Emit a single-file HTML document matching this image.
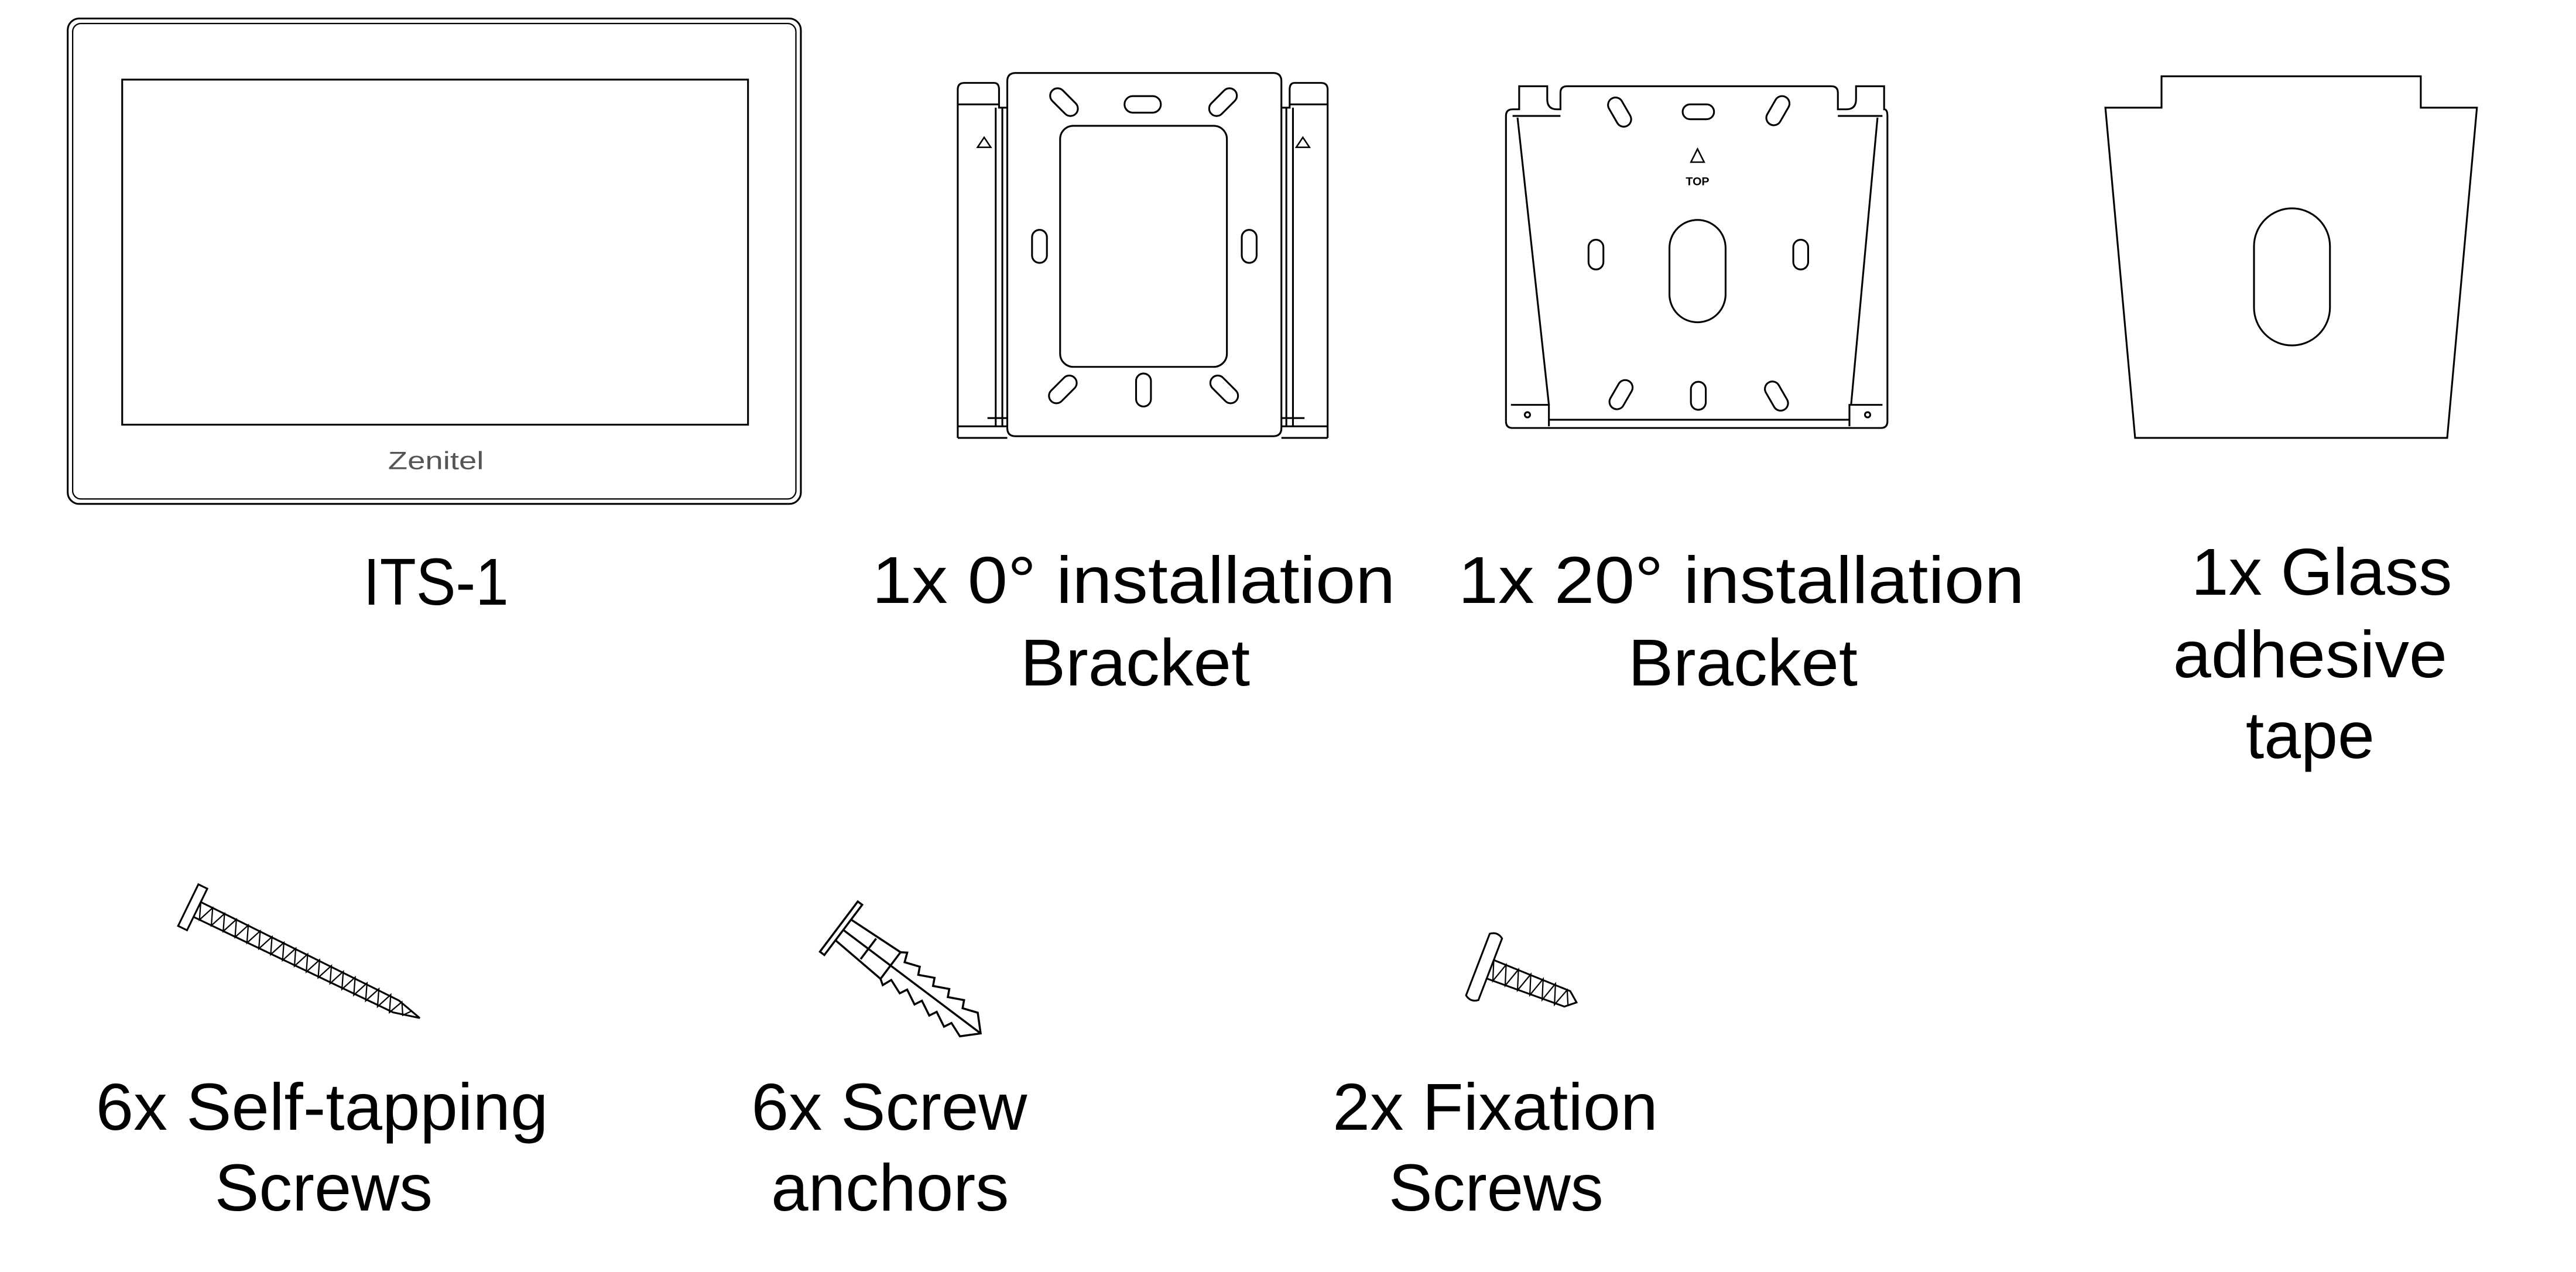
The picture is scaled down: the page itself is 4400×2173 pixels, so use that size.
<!DOCTYPE html>
<html><head><meta charset="utf-8"><style>
html,body{margin:0;padding:0;background:#fff;}
svg{display:block;}
text{font-family:"Liberation Sans",Arial,sans-serif;fill:#000;}
</style></head><body>
<svg width="4400" height="2173" viewBox="0 0 1560 770" xmlns="http://www.w3.org/2000/svg">
<g fill="none" stroke="#000" stroke-width="1.1">
<!-- ITS-1 -->
<rect x="41" y="11" width="444" height="294" rx="7"/>
<rect x="44" y="14" width="438" height="288" rx="5" stroke-width="0.8"/>
<rect x="74" y="48" width="379" height="209"/>
<!-- 0 deg bracket -->
<path d="M610,49 Q610,44 615,44 L771,44 Q776,44 776,49 L776,259 Q776,264 771,264 L615,264 Q610,264 610,259 Z"/>
<rect x="642" y="76" width="101" height="146" rx="8"/>
<path d="M580,265 L580,54 Q580,50 584,50 L602,50 Q605,50 605,54 L605,65 L610,65"/>
<line x1="580" y1="63" x2="605" y2="63"/>
<line x1="603" y1="65" x2="603" y2="258"/><line x1="607" y1="65" x2="607" y2="258"/>
<path d="M580,265 L610,265 M580,258 L610,258 M598,253 L610,253"/>
<path d="M804,265 L804,54 Q804,50 800,50 L784,50 Q781,50 781,54 L781,65 L776,65"/>
<line x1="781" y1="63" x2="804" y2="63"/>
<line x1="779" y1="65" x2="779" y2="258"/><line x1="783" y1="65" x2="783" y2="258"/>
<path d="M776,265 L804,265 M776,258 L804,258 M776,253 L790,253"/>
<path d="M592,89 L596,83 L600,89 Z M785,89 L789,83 L793,89 Z" stroke-width="0.9"/>
<rect x="681" y="58" width="22" height="10" rx="5"/>
<rect x="634" y="57" width="20" height="9" rx="4.5" transform="rotate(45 644 62)"/>
<rect x="731" y="57" width="20" height="9" rx="4.5" transform="rotate(-45 741 62)"/>
<rect x="625" y="139" width="9" height="20" rx="4.5"/>
<rect x="752" y="139" width="9" height="20" rx="4.5"/>
<rect x="688" y="226" width="9" height="20" rx="4.5"/>
<rect x="634" y="231" width="20" height="9" rx="4.5" transform="rotate(-45 644 236)"/>
<rect x="731" y="231" width="20" height="9" rx="4.5" transform="rotate(45 741 236)"/>
<!-- 20 deg bracket -->
<path d="M912,255 L912,70 Q912,66 916,66 L920,66 L920,52 L937,52 L937,60 Q937,66 943,66 L945,66 L945,56 Q945,52 949,52 L1109,52 Q1113,52 1113,56 L1113,66 L1118,66 Q1124,66 1124,60 L1124,52 L1141,52 L1141,66 Q1143,66 1143,70 L1143,255"/>
<path d="M912,255 Q912,259 916,259 L1139,259 Q1143,259 1143,255"/>
<path d="M916,70 L945,70 M1113,70 L1140,70"/>
<line x1="919" y1="71" x2="938" y2="245"/>
<line x1="1137" y1="71" x2="1121" y2="245"/>
<path d="M915,245 L938,245 L938,258 M1140,245 L1120,245 L1120,258 M938,254 L1120,254"/>
<circle cx="925" cy="251" r="1.6"/><circle cx="1131" cy="251" r="1.6"/>
<rect x="1019" y="63" width="19" height="9" rx="4.5"/>
<rect x="972" y="63" width="19" height="9" rx="4.5" transform="rotate(60 981 67)"/>
<rect x="1067" y="63" width="19" height="9" rx="4.5" transform="rotate(-60 1076 67)"/>
<rect x="962" y="145" width="9" height="18" rx="4.5"/>
<rect x="1086" y="145" width="9" height="18" rx="4.5"/>
<rect x="1011" y="133" width="34" height="62" rx="17"/>
<rect x="1024" y="231" width="9" height="17" rx="4.5"/>
<rect x="972" y="235" width="19" height="9" rx="4.5" transform="rotate(-60 981 239)"/>
<rect x="1067" y="235" width="19" height="9" rx="4.5" transform="rotate(60 1076 239)"/>
<path d="M1024,98 L1028,90 L1032,98 Z" stroke-width="0.9"/>
<!-- glass tape -->
<path d="M1275,65 L1309,65 L1309,46 L1466,46 L1466,65 L1500,65 L1482,265 L1293,265 Z"/>
<rect x="1365" y="126" width="46" height="83" rx="23"/>
<!-- self-tapping screw -->
<g transform="translate(114,548) rotate(26)">
<path d="M0,-14 L6,-14 L6,14 L0,14 Z"/>
<path d="M6,-5 L140,-4 L156,0 L140,4 L6,5"/>
<path d="M6,-5 L10,5 L14,-5 L18,5 L22,-5 L26,5 L30,-5 L34,5 L38,-5 L42,5 L46,-5 L50,5 L54,-5 L58,5 L62,-5 L66,5 L70,-5 L74,5 L78,-5 L82,5 L86,-5 L90,5 L94,-5 L98,5 L102,-5 L106,5 L110,-5 L114,5 L118,-5 L122,5 L126,-5 L130,5 L134,-5 L138,5 L142,-4 L146,3 L150,-2" stroke-width="0.8"/>
</g>
<!-- anchor -->
<g transform="translate(508,561) rotate(37) scale(1.12)">
<path d="M0,-17 L3,-17 L3,17 L0,17 Z"/>
<path d="M3,-7 L35,-9 L38,-11 L40,-6 L48,-9 L50,-5 L58,-9 L60,-5 L68,-9 L70,-5 L78,-9 L80,-5 L88,-8 L96,0 L88,8 L80,5 L78,9 L70,5 L68,9 L60,5 L58,9 L50,5 L48,9 L40,6 L38,11 L35,9 L3,7"/>
<path d="M3,0 L96,0 M20,-7 L20,7 M35,-9 L35,9"/>
</g>
<!-- fixation screw -->
<g transform="translate(895,584) rotate(21)">
<path d="M0,-20 Q4,-23 8,-20 L8,20 Q4,23 0,20 Z"/>
<path d="M8,-6 L58,-5 L64,0 L58,5 L8,6"/>
<path d="M8,-6 L12,6 L16,-6 L20,6 L24,-6 L28,6 L32,-6 L36,6 L40,-6 L44,6 L48,-6 L52,6 L56,-5 L60,4" stroke-width="0.8"/>
</g>
</g>
<text x="1028" y="112" font-size="7" font-weight="bold" text-anchor="middle">TOP</text>
<text x="264" y="284" font-size="15" style="fill:#555" text-anchor="middle" textLength="58" lengthAdjust="spacingAndGlyphs">Zenitel</text>
<g font-size="40">
<text x="220" y="366" textLength="88" lengthAdjust="spacingAndGlyphs">ITS-1</text>
<text x="528" y="365" textLength="317" lengthAdjust="spacingAndGlyphs">1x  0° installation</text>
<text x="618" y="415" textLength="139" lengthAdjust="spacingAndGlyphs">Bracket</text>
<text x="883" y="365" textLength="343" lengthAdjust="spacingAndGlyphs">1x  20° installation</text>
<text x="986" y="415" textLength="139" lengthAdjust="spacingAndGlyphs">Bracket</text>
<text x="1327" y="360" textLength="158" lengthAdjust="spacingAndGlyphs">1x Glass</text>
<text x="1316" y="410" textLength="166" lengthAdjust="spacingAndGlyphs">adhesive</text>
<text x="1360" y="459" textLength="78" lengthAdjust="spacingAndGlyphs">tape</text>
<text x="58" y="684" textLength="274" lengthAdjust="spacingAndGlyphs">6x Self-tapping</text>
<text x="130" y="733" textLength="132" lengthAdjust="spacingAndGlyphs">Screws</text>
<text x="455" y="684" textLength="167" lengthAdjust="spacingAndGlyphs">6x Screw</text>
<text x="467" y="733" textLength="144" lengthAdjust="spacingAndGlyphs">anchors</text>
<text x="807" y="684" textLength="197" lengthAdjust="spacingAndGlyphs">2x Fixation</text>
<text x="841" y="733" textLength="130" lengthAdjust="spacingAndGlyphs">Screws</text>
</g>
</svg>
</body></html>
